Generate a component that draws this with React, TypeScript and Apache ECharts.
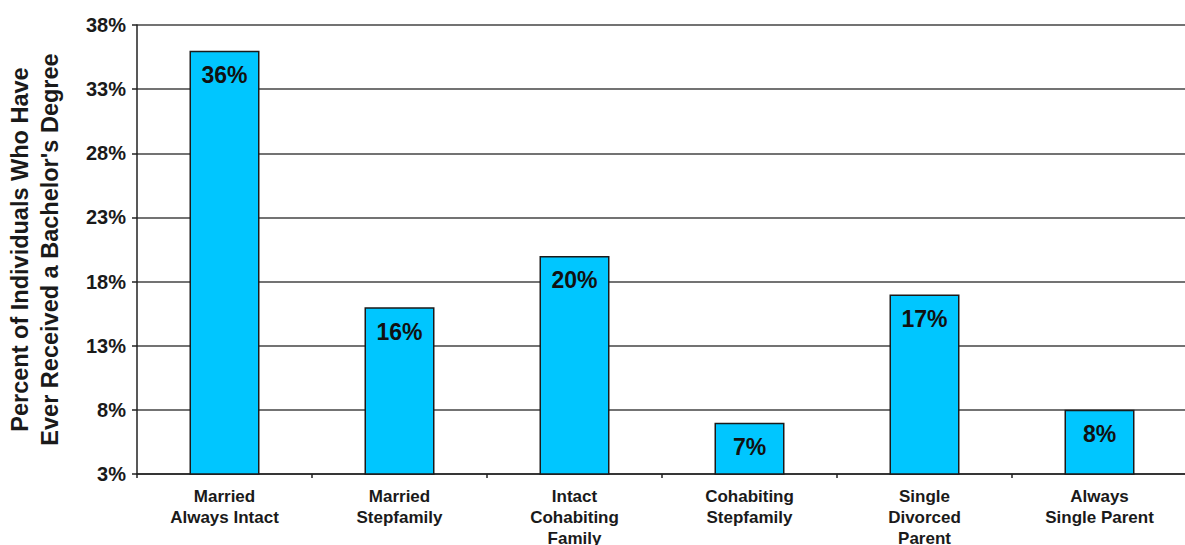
import React, { useEffect, useRef } from "react";
import * as echarts from "echarts";

const categories = [
  "Married\nAlways Intact",
  "Married\nStepfamily",
  "Intact\nCohabiting\nFamily",
  "Cohabiting\nStepfamily",
  "Single\nDivorced\nParent",
  "Always\nSingle Parent",
];
const values = [36, 16, 20, 7, 17, 8];
const yTitle = "Percent of Individuals Who Have\nEver Received a Bachelor's Degree";

export default function App() {
  const ref = useRef<HTMLDivElement>(null);
  useEffect(() => {
    if (!ref.current) return;
    const chart = echarts.init(ref.current, undefined, { renderer: "svg" });
    const font = "'Liberation Sans', Arial, sans-serif";
    chart.setOption({
      animation: false,
      textStyle: { fontFamily: font },
      grid: {
        left: 137,
        right: -2,
        top: 25,
        bottom: 71,
        containLabel: false,
        outerBoundsMode: "none",
      },
      xAxis: {
        type: "category",
        data: categories,
        axisLine: { lineStyle: { color: "#222", width: 1.5 } },
        axisTick: { show: true, length: 4, lineStyle: { color: "#222", width: 1.5 } },
        axisLabel: {
          color: "#1a1a1a",
          fontWeight: "bold",
          fontSize: 17,
          lineHeight: 21,
          margin: 12,
          fontFamily: font,
        },
      },
      yAxis: {
        type: "value",
        min: 3,
        max: 38,
        interval: 5,
        name: yTitle,
        nameLocation: "middle",
        nameGap: 72,
        nameRotate: 90,
        nameTextStyle: {
          color: "#1a1a1a",
          fontWeight: "bold",
          fontSize: 23.5,
          lineHeight: 30,
          fontFamily: font,
        },
        axisLine: { show: true, lineStyle: { color: "#222", width: 1.5 } },
        axisTick: { show: true, length: 5, lineStyle: { color: "#222", width: 1.5 } },
        axisLabel: {
          color: "#1a1a1a",
          fontWeight: "bold",
          fontSize: 20,
          margin: 11,
          formatter: "{value}%",
          fontFamily: font,
        },
        splitLine: { show: true, lineStyle: { color: "#444", width: 1.5 } },
      },
      series: [
        {
          type: "bar",
          data: values,
          barWidth: "40%",
          itemStyle: { color: "#00C6FF", borderColor: "#1a1a1a", borderWidth: 1.5 },
          label: {
            show: true,
            position: "insideTop",
            distance: 13,
            formatter: "{c}%",
            color: "#111",
            fontWeight: "bold",
            fontSize: 23,
            fontFamily: font,
          },
        },
      ],
    });
    return () => chart.dispose();
  }, []);
  return (
    <div
      ref={ref}
      style={{ position: "absolute", left: 0, top: 0, width: 1185, height: 545, background: "#fff" }}
    />
  );
}
